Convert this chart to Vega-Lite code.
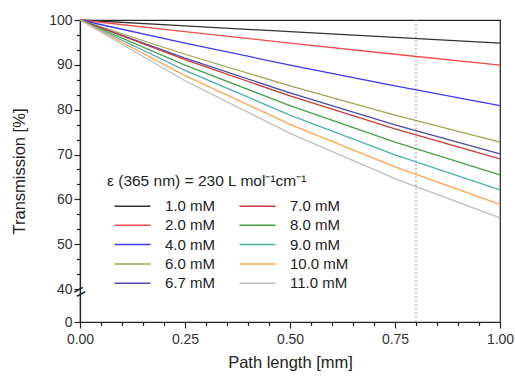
{
  "$schema": "https://vega.github.io/schema/vega-lite/v6.json",
  "width": 420,
  "height": 302,
  "autosize": "none",
  "padding": {"left": 80, "top": 20, "right": 15, "bottom": 56},
  "background": "white",
  "config": {
    "font": "Liberation Sans",
    "view": {"stroke": "#222", "strokeWidth": 1.2},
    "axis": {"grid": false, "domainColor": "#222", "tickColor": "#222", "labelColor": "#333", "titleColor": "#222", "labelFontSize": 14, "titleFontSize": 16.5, "titleFontWeight": "normal", "domainWidth": 1.2, "tickWidth": 1.2, "labelOverlap": false}
  },
  "datasets": {
    "curves": [
      {"l": 0, "T": 100, "c": "1.0 mM"}, {"l": 0.25, "T": 98.68, "c": "1.0 mM"}, {"l": 0.5, "T": 97.39, "c": "1.0 mM"}, {"l": 0.75, "T": 96.11, "c": "1.0 mM"}, {"l": 1, "T": 94.84, "c": "1.0 mM"},
      {"l": 0, "T": 100, "c": "2.0 mM"}, {"l": 0.25, "T": 97.39, "c": "2.0 mM"}, {"l": 0.5, "T": 94.84, "c": "2.0 mM"}, {"l": 0.75, "T": 92.36, "c": "2.0 mM"}, {"l": 1, "T": 89.95, "c": "2.0 mM"},
      {"l": 0, "T": 100, "c": "4.0 mM"}, {"l": 0.25, "T": 94.84, "c": "4.0 mM"}, {"l": 0.5, "T": 89.95, "c": "4.0 mM"}, {"l": 0.75, "T": 85.31, "c": "4.0 mM"}, {"l": 1, "T": 80.91, "c": "4.0 mM"},
      {"l": 0, "T": 100, "c": "6.0 mM"}, {"l": 0.25, "T": 92.36, "c": "6.0 mM"}, {"l": 0.5, "T": 85.31, "c": "6.0 mM"}, {"l": 0.75, "T": 78.80, "c": "6.0 mM"}, {"l": 1, "T": 72.78, "c": "6.0 mM"},
      {"l": 0, "T": 100, "c": "6.7 mM"}, {"l": 0.25, "T": 91.51, "c": "6.7 mM"}, {"l": 0.5, "T": 83.74, "c": "6.7 mM"}, {"l": 0.75, "T": 76.63, "c": "6.7 mM"}, {"l": 1, "T": 70.13, "c": "6.7 mM"},
      {"l": 0, "T": 100, "c": "7.0 mM"}, {"l": 0.25, "T": 91.15, "c": "7.0 mM"}, {"l": 0.5, "T": 83.08, "c": "7.0 mM"}, {"l": 0.75, "T": 75.73, "c": "7.0 mM"}, {"l": 1, "T": 69.02, "c": "7.0 mM"},
      {"l": 0, "T": 100, "c": "8.0 mM"}, {"l": 0.25, "T": 89.95, "c": "8.0 mM"}, {"l": 0.5, "T": 80.91, "c": "8.0 mM"}, {"l": 0.75, "T": 72.78, "c": "8.0 mM"}, {"l": 1, "T": 65.46, "c": "8.0 mM"},
      {"l": 0, "T": 100, "c": "9.0 mM"}, {"l": 0.25, "T": 88.77, "c": "9.0 mM"}, {"l": 0.5, "T": 78.80, "c": "9.0 mM"}, {"l": 0.75, "T": 69.94, "c": "9.0 mM"}, {"l": 1, "T": 62.09, "c": "9.0 mM"},
      {"l": 0, "T": 100, "c": "10.0 mM"}, {"l": 0.25, "T": 87.60, "c": "10.0 mM"}, {"l": 0.5, "T": 76.74, "c": "10.0 mM"}, {"l": 0.75, "T": 67.22, "c": "10.0 mM"}, {"l": 1, "T": 58.88, "c": "10.0 mM"},
      {"l": 0, "T": 100, "c": "11.0 mM"}, {"l": 0.25, "T": 86.45, "c": "11.0 mM"}, {"l": 0.5, "T": 74.73, "c": "11.0 mM"}, {"l": 0.75, "T": 64.60, "c": "11.0 mM"}, {"l": 1, "T": 55.85, "c": "11.0 mM"}
    ],
    "marker": [{"l": 0.8}],
    "brk": [{"l": 0, "T": 36, "s": "="}]
  },
  "resolve": {"axis": {"x": "independent", "y": "independent"}},
  "layer": [
    {
      "data": {"name": "marker"},
      "mark": {"type": "rule", "color": "#aaaaaa", "strokeDash": [2, 2], "strokeWidth": 1.2},
      "encoding": {"x": {"field": "l", "type": "quantitative", "axis": null}}
    },
    {
      "data": {"name": "curves"},
      "mark": {"type": "line", "strokeWidth": 1.3},
      "encoding": {
        "x": {
          "field": "l", "type": "quantitative",
          "scale": {"domain": [0, 1], "nice": false, "zero": false},
          "axis": {
            "orient": "bottom",
            "title": "Path length [mm]",
            "values": [0, 0.25, 0.5, 0.75, 1],
            "format": ".2f",
            "tickSize": 6,
            "labelOverlap": false,
            "labelPadding": 4,
            "titlePadding": 8,
            "labelFlush": false
          }
        },
        "y": {
          "field": "T", "type": "quantitative",
          "scale": {"domain": [0, 40, 100], "range": [302, 269, 0], "nice": false, "zero": false},
          "axis": {
            "orient": "left",
            "title": "Transmission [%]",
            "values": [0, 40, 50, 60, 70, 80, 90, 100],
            "format": "d",
            "tickSize": 6,
            "labelOverlap": false,
            "labelPadding": 2,
            "titlePadding": 21
          }
        },
        "color": {
          "field": "c", "type": "nominal",
          "scale": {
            "domain": ["1.0 mM", "2.0 mM", "4.0 mM", "6.0 mM", "6.7 mM", "7.0 mM", "8.0 mM", "9.0 mM", "10.0 mM", "11.0 mM"],
            "range": ["#333333", "#f24a4a", "#3a3ae8", "#a3a34f", "#4a4aa8", "#c83a3a", "#45a045", "#4fb0b0", "#ffa550", "#bdbdbd"]
          },
          "legend": {
            "title": "ε (365 nm) = 230 L mol⁻¹cm⁻¹",
            "orient": "none",
            "legendX": 27,
            "legendY": 154,
            "columns": 2,
            "symbolType": "M0,0H7.2",
            "symbolSize": 100,
            "symbolStrokeWidth": 1.5,
            "labelFontSize": 15,
            "labelColor": "#222",
            "labelOffset": 43,
            "titleFontSize": 15.5,
            "titleFontWeight": "normal",
            "titleColor": "#222",
            "titlePadding": 9,
            "columnPadding": 16,
            "rowPadding": 3.3,
            "titleLimit": 400
          }
        }
      }
    },
    {
      "data": {"name": "brk"},
      "mark": {"type": "text", "fontSize": 20, "angle": 330, "color": "#222"},
      "encoding": {
        "x": {
          "field": "l", "type": "quantitative",
          "axis": {
            "orient": "bottom",
            "title": null,
            "labels": false,
            "domain": false,
            "values": [0.05, 0.1, 0.15, 0.2, 0.3, 0.35, 0.4, 0.45, 0.55, 0.6, 0.65, 0.7, 0.8, 0.85, 0.9, 0.95],
            "tickSize": 3.5
          }
        },
        "y": {
          "field": "T", "type": "quantitative",
          "axis": {
            "orient": "left",
            "title": null,
            "labels": false,
            "domain": false,
            "values": [43.333, 46.667, 53.333, 56.667, 63.333, 66.667, 73.333, 76.667, 83.333, 86.667, 93.333, 96.667],
            "tickSize": 3.5
          }
        },
        "text": {"field": "s"}
      }
    }
  ]
}
